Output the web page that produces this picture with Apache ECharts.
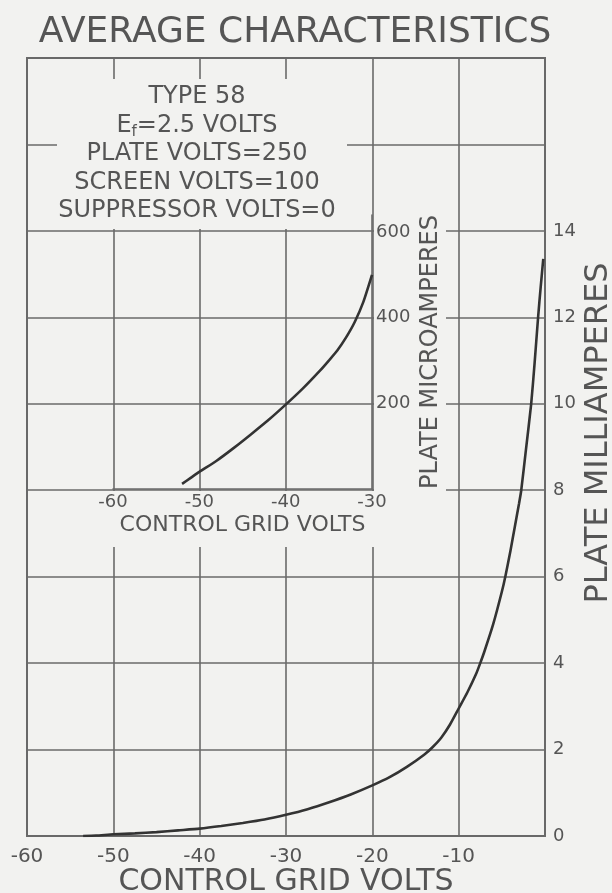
<!DOCTYPE html>
<html>
<head>
<meta charset="utf-8">
<script src="https://cdn.jsdelivr.net/npm/echarts@6/dist/echarts.min.js"></script>
<style>
html,body{margin:0;padding:0;background:#f2f2f0;}
#chart{width:612px;height:893px;}
</style>
</head>
<body>
<div id="chart"></div>
<script>
// ---------- data ----------
const titleText = 'AVERAGE CHARACTERISTICS';
const infoLines = [
  'TYPE 58',
  'E{sub|f}=2.5 VOLTS',
  'PLATE VOLTS=250',
  'SCREEN VOLTS=100',
  'SUPPRESSOR VOLTS=0'
];
// main curve: control grid volts -> plate milliamperes
const mainGridVolts = [-53.5, -52, -50, -47.5, -45, -42.5, -40, -37.5, -35, -32.5, -30, -27.5, -25, -22.5, -20,
                       -18, -16, -14, -13, -12, -11, -10, -9, -8, -7.5, -7, -6, -5, -4.6, -4, -3.5, -3, -2.75,
                       -2.2, -1.6, -1.2, -0.8, -0.5, -0.2];
const mainPlateMA   = [0, 0.01, 0.04, 0.06, 0.09, 0.13, 0.17, 0.23, 0.30, 0.38, 0.49, 0.62, 0.78, 0.96, 1.17,
                       1.36, 1.6, 1.88, 2.06, 2.28, 2.58, 2.95, 3.32, 3.74, 4.0, 4.28, 4.9, 5.65, 6.0, 6.6, 7.15, 7.7, 8.0,
                       8.95, 10.0, 10.95, 12.0, 12.7, 13.35];
// inset curve: control grid volts -> plate microamperes
const insetGridVolts = [-52, -51, -50, -48, -46, -44, -42, -40, -38, -36, -35, -34, -33, -32, -31, -30];
const insetPlateUA   = [12, 26, 40, 66, 96, 128, 161, 197, 235, 277, 300, 324, 354, 390, 437, 500];
// axes
const mainXRange = [-60, 0];
const mainYRange = [0, 18];
const mainYLabelMax = 14;
const insetXRange = [-60, -30];
const insetYRange = [0, 640];
const insetYLabelMax = 600;
const mainXName = 'CONTROL GRID VOLTS';
const mainYName = 'PLATE MILLIAMPERES';
const insetXName = 'CONTROL GRID VOLTS';
const insetYName = 'PLATE MICROAMPERES';

// ---------- styling ----------
const BG = '#f2f2f0';
const LINE = '#6a6a6a';
const CURVE = '#333333';
const TXT = '#555555';
const FONT = 'DejaVu Sans';

const zip = (a, b) => a.map((v, i) => [v, b[i]]);

const chart = echarts.init(document.getElementById('chart'), null, {renderer: 'canvas'});

const maskRect = (x, y, w, h) => ({
  type: 'rect', z: 1, silent: true,
  shape: {x: x, y: y, width: w, height: h},
  style: {fill: BG}
});

const option = {
  backgroundColor: BG,
  animation: false,
  title: {
    text: titleText, left: 290, top: 10, textAlign: 'center',
    textStyle: {fontFamily: FONT, fontSize: 36, fontWeight: 'normal', color: TXT}
  },
  grid: [
    {left: 27, top: 58, width: 518, height: 778, containLabel: false, outerBoundsMode: 'none',
     show: true, borderColor: LINE, borderWidth: 2, backgroundColor: 'transparent'},
    {left: 113, top: 215, width: 259, height: 274, containLabel: false, outerBoundsMode: 'none', z: 5}
  ],
  xAxis: [
    {
      gridIndex: 0, type: 'value', min: mainXRange[0], max: mainXRange[1], interval: 10, z: 0,
      axisLine: {show: false}, axisTick: {show: false},
      splitLine: {show: true, lineStyle: {color: LINE, width: 1.6}},
      axisLabel: {fontFamily: FONT, fontSize: 20, color: TXT, margin: 11, showMaxLabel: false},
      name: mainXName, nameLocation: 'middle', nameGap: 31, nameMoveOverlap: false,
      nameTextStyle: {fontFamily: FONT, fontSize: 30, color: TXT}
    },
    {
      gridIndex: 1, type: 'value', min: insetXRange[0], max: insetXRange[1], interval: 10, z: 5,
      axisLine: {show: true, onZero: false, lineStyle: {color: LINE, width: 1.6}}, axisTick: {show: false},
      splitLine: {show: false},
      axisLabel: {fontFamily: FONT, fontSize: 18, color: TXT, margin: 4},
      name: insetXName, nameLocation: 'middle', nameGap: 25, nameMoveOverlap: false,
      nameTextStyle: {fontFamily: FONT, fontSize: 22, color: TXT}
    }
  ],
  yAxis: [
    {
      gridIndex: 0, type: 'value', position: 'right', min: mainYRange[0], max: mainYRange[1], interval: 2, z: 0,
      axisLine: {show: false}, axisTick: {show: false},
      splitLine: {show: true, lineStyle: {color: LINE, width: 1.6}},
      axisLabel: {fontFamily: FONT, fontSize: 18, color: TXT, margin: 8,
        formatter: v => (v <= mainYLabelMax ? String(v) : '')},
      name: mainYName, nameLocation: 'middle', nameGap: 38, nameRotate: 90, nameMoveOverlap: false,
      nameTextStyle: {fontFamily: FONT, fontSize: 32, color: TXT, padding: [0, 0, 0, 28]}
    },
    {
      gridIndex: 1, type: 'value', position: 'right', min: insetYRange[0], max: insetYRange[1], interval: 200, z: 5,
      axisLine: {show: true, onZero: false, lineStyle: {color: LINE, width: 1.6}}, axisTick: {show: false},
      splitLine: {show: false},
      axisLabel: {fontFamily: FONT, fontSize: 18, color: TXT, margin: 4,
        formatter: v => (v > 0 && v <= insetYLabelMax ? String(v) : '')},
      name: insetYName, nameLocation: 'middle', nameGap: 47, nameRotate: 90, nameMoveOverlap: false,
      nameTextStyle: {fontFamily: FONT, fontSize: 24, color: TXT}
    }
  ],
  series: [
    {
      type: 'line', xAxisIndex: 0, yAxisIndex: 0, z: 6,
      data: zip(mainGridVolts, mainPlateMA),
      smooth: 0.2, showSymbol: false, symbol: 'none',
      lineStyle: {color: CURVE, width: 2.6}
    },
    {
      type: 'line', xAxisIndex: 1, yAxisIndex: 1, z: 6,
      data: zip(insetGridVolts, insetPlateUA),
      smooth: 0.2, showSymbol: false, symbol: 'none',
      lineStyle: {color: CURVE, width: 2.6}
    }
  ],
  graphic: [
    // gaps in the ruled grid where the lettering sits
    maskRect(57, 79, 290, 150),
    maskRect(29, 491, 426, 56),
    maskRect(374, 150, 72, 341),
    {
      type: 'text', z: 7, silent: true, x: 197, y: 83,
      style: {
        text: infoLines.join('\n'),
        align: 'center', verticalAlign: 'top',
        fontFamily: FONT, fontSize: 24, lineHeight: 28.5, fill: TXT,
        rich: {
          sub: {fontFamily: FONT, fontSize: 15, lineHeight: 12, verticalAlign: 'bottom', fill: TXT}
        }
      }
    }
  ]
};
chart.setOption(option);
</script>
</body>
</html>
